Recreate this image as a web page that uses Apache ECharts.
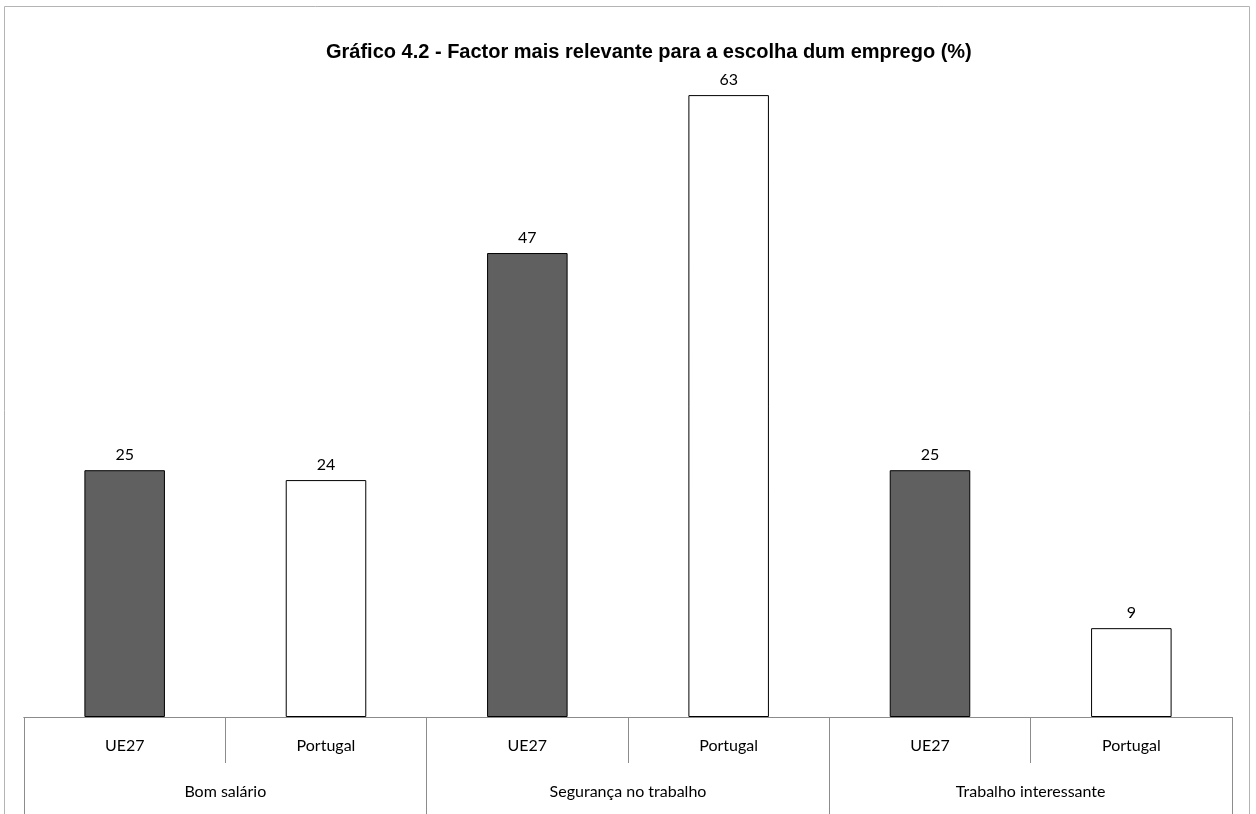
<!DOCTYPE html>
<html>
<head>
<meta charset="utf-8">
<script src="https://cdn.jsdelivr.net/npm/echarts@6/dist/echarts.min.js"></script>
<style>
html,body{margin:0;padding:0;background:#fff;}
#chart{width:1256px;height:814px;}
</style>
</head>
<body>
<div id="chart"></div>
<script>
const titleText = 'Gráfico 4.2 - Factor mais relevante para a escolha dum emprego (%)';
const groups = ['Bom salário', 'Segurança no trabalho', 'Trabalho interessante'];
const subCategories = ['UE27', 'Portugal', 'UE27', 'Portugal', 'UE27', 'Portugal'];
const values = [25, 24, 47, 63, 25, 9];
const seriesColors = { 'UE27': '#606060', 'Portugal': '#ffffff' };

const chart = echarts.init(document.getElementById('chart'), null, { renderer: 'canvas' });
const labelFont = 'Lato, "Open Sans", sans-serif';

chart.setOption({
  animation: false,
  backgroundColor: '#ffffff',
  title: {
    text: titleText,
    left: 321,
    top: 37,
    textStyle: { fontFamily: '"Liberation Sans", Arial, sans-serif', fontWeight: 'bold', fontSize: 20, color: '#000' }
  },
  graphic: [{
    type: 'rect',
    shape: { x: 4.5, y: 6.5, width: 1245, height: 820 },
    style: { fill: 'none', stroke: '#b4b4b4', lineWidth: 1 },
    silent: true, z: -1
  }],
  grid: { left: 24, right: 24, top: 26, bottom: 97, containLabel: false },
  xAxis: [{
    type: 'category',
    data: subCategories,
    position: 'bottom',
    axisLine: { show: true, lineStyle: { color: '#8c8c8c', width: 1 } },
    axisTick: { show: true, alignWithLabel: false, interval: 0, length: 46, lineStyle: { color: '#8c8c8c' } },
    axisLabel: { interval: 0, margin: 21, fontFamily: labelFont, fontSize: 16, color: '#000' }
  }, {
    type: 'category',
    data: groups,
    position: 'bottom',
    axisLine: { show: true, lineStyle: { color: '#8c8c8c', width: 1 } },
    axisTick: { show: true, interval: 0, length: 120, lineStyle: { color: '#8c8c8c' } },
    axisLabel: { interval: 0, margin: 67, fontFamily: labelFont, fontSize: 16, color: '#000' }
  }],
  yAxis: {
    type: 'value',
    min: 0,
    max: 70,
    show: false,
    splitLine: { show: false }
  },
  series: [{
    type: 'bar',
    xAxisIndex: 0,
    barWidth: '40%',
    data: values.map((v, i) => ({
      value: v,
      itemStyle: { color: seriesColors[subCategories[i]], borderColor: '#000', borderWidth: 1 }
    })),
    label: {
      show: true,
      position: 'top',
      distance: 7,
      fontFamily: labelFont,
      fontSize: 16,
      color: '#000'
    }
  }]
});
</script>
</body>
</html>
